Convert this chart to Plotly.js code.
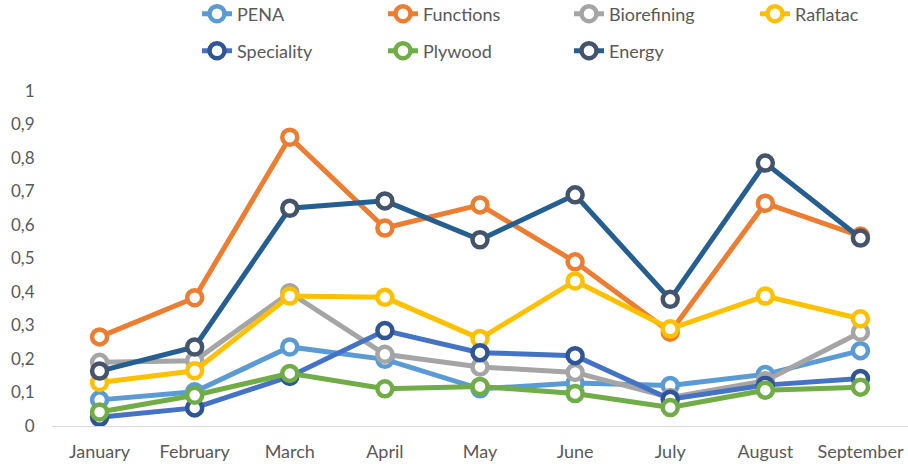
<!DOCTYPE html>
<html><head><meta charset="utf-8">
<script src="https://cdn.plot.ly/plotly-3.0.1.min.js"></script>
<style>html,body{margin:0;padding:0;background:#fff}#chart{width:908px;height:464px}</style>
</head><body><div id="chart"></div>
<script>
const months = ["January","February","March","April","May","June","July","August","September"];
const seriesNames = ["PENA","Functions","Biorefining","Raflatac","Speciality","Plywood","Energy"];
const pena        = [0.078, 0.102, 0.236, 0.199, 0.111, 0.128, 0.121, 0.154, 0.225];
const functions   = [0.266, 0.383, 0.862, 0.591, 0.660, 0.490, 0.280, 0.665, 0.567];
const biorefining = [0.190, 0.195, 0.398, 0.214, 0.176, 0.160, 0.085, 0.135, 0.280];
const raflatac    = [0.130, 0.165, 0.388, 0.384, 0.261, 0.433, 0.290, 0.388, 0.320];
const speciality  = [0.026, 0.054, 0.148, 0.285, 0.219, 0.210, 0.080, 0.122, 0.142];
const plywood     = [0.042, 0.092, 0.157, 0.111, 0.118, 0.097, 0.055, 0.107, 0.116];
const energy      = [0.164, 0.236, 0.650, 0.672, 0.556, 0.690, 0.378, 0.785, 0.561];
const yTicks = [0,0.1,0.2,0.3,0.4,0.5,0.6,0.7,0.8,0.9,1];
const yTickText = ["0","0,1","0,2","0,3","0,4","0,5","0,6","0,7","0,8","0,9","1"];

const values = [pena, functions, biorefining, raflatac, speciality, plywood, energy];
const lineColors = ["#5B9BD5","#ED7D31","#A5A5A5","#FFC000","#4472C4","#70AD47","#255E91"];
const markerColors = ["#5B9BD5","#ED7D31","#A5A5A5","#FFC000","#2F5597","#70AD47","#44546A"];
const legendIds = ["legend","legend","legend","legend","legend2","legend2","legend2"];

const traces = seriesNames.map((n,i)=>({
  type:"scatter", mode:"lines+markers", name:n, x:months, y:values[i],
  legend: legendIds[i],
  line:{color:lineColors[i], width:5},
  marker:{symbol:"circle", size:15, color:"#ffffff", line:{color:markerColors[i], width:4.5}}
}));

const fam = "Lato, 'Liberation Sans', sans-serif";
const legendBase = {orientation:"h", xref:"container", yref:"container", xanchor:"left", yanchor:"middle",
  font:{family:fam, size:18, color:"#595959"}, entrywidth:141, entrywidthmode:"pixels",
  bgcolor:"rgba(0,0,0,0)", itemclick:false};

const layout = {
  width:908, height:464,
  margin:{l:52, r:0, t:91, b:38, autoexpand:false},
  paper_bgcolor:"#ffffff", plot_bgcolor:"#ffffff",
  font: {family:fam, size:16, color:"#595959"},
  showlegend:true,
  legend: Object.assign({}, legendBase, {x:197/908, y:1-14/464}),
  legend2: Object.assign({}, legendBase, {x:197/908, y:1-51/464}),
  xaxis:{type:"category", showgrid:false, zeroline:false, showline:true, linecolor:"#D9D9D9", linewidth:1.3,
    ticks:"outside", ticklen:9, tickcolor:"rgba(0,0,0,0)", tickfont:{family:fam, size:18, color:"#595959"}, range:[-0.5,8.5]},
  yaxis:{range:[0,1], showgrid:false, zeroline:false, showline:false, tickvals:yTicks, ticktext:yTickText,
    ticks:"outside", ticklen:13, tickcolor:"rgba(0,0,0,0)", tickfont:{family:fam, size:17, color:"#595959"}}
};
Plotly.newPlot("chart", traces, layout, {displayModeBar:false, staticPlot:true});
</script></body></html>
